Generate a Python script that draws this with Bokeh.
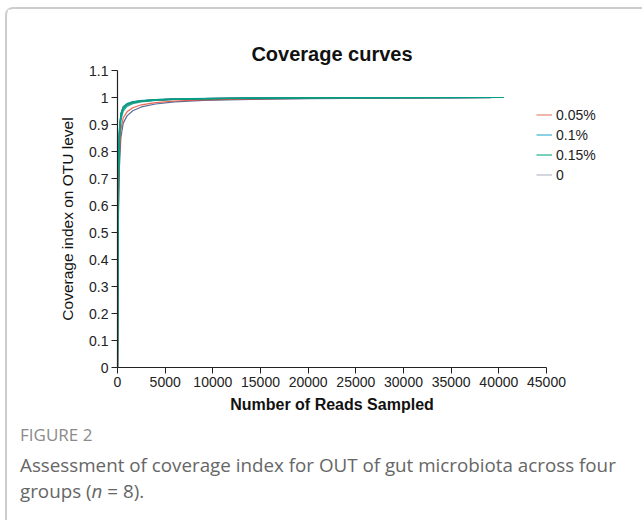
from bokeh.plotting import figure
from bokeh.models import Range1d, FixedTicker, Legend, LegendItem, Div, Title
from bokeh.layouts import column
from bokeh.embed import file_html
from bokeh.resources import INLINE

# ---------------- data ----------------
reads = [0, 40, 100, 200, 350, 600, 1000, 1600, 2500, 4000, 6000, 9000, 14000, 20000, 28000, 40500]

group_names = ["0.05%", "0.1%", "0.15%", "0"]

cov_0 = [
    [0, 0.42, 0.72, 0.875, 0.938, 0.964, 0.976, 0.984, 0.988, 0.992, 0.994, 0.996, 0.998, 0.999, 0.9995, 1.0],
    [0, 0.40, 0.70, 0.86, 0.93, 0.958, 0.972, 0.981, 0.986, 0.990, 0.993, 0.996, 0.997, 0.999, 0.9995, 1.0],
    [0, 0.30, 0.56, 0.74, 0.85, 0.905, 0.932, 0.951, 0.965, 0.976, 0.984, 0.989, 0.993, 0.996, 0.998, 1.0],
]
cov_005 = [
    [0, 0.40, 0.70, 0.86, 0.93, 0.960, 0.973, 0.981, 0.986, 0.990, 0.993, 0.995, 0.997, 0.999, 0.9995, 1.0],
    [0, 0.33, 0.60, 0.78, 0.88, 0.925, 0.947, 0.962, 0.973, 0.981, 0.987, 0.991, 0.995, 0.997, 0.999, 1.0],
    [0, 0.41, 0.71, 0.87, 0.935, 0.962, 0.975, 0.983, 0.988, 0.991, 0.994, 0.996, 0.998, 0.999, 0.9995, 1.0],
]
cov_01 = [
    [0, 0.41, 0.71, 0.87, 0.935, 0.963, 0.976, 0.983, 0.987, 0.991, 0.994, 0.996, 0.998, 0.999, 0.9995, 1.0],
    [0, 0.39, 0.69, 0.85, 0.925, 0.957, 0.971, 0.980, 0.986, 0.990, 0.993, 0.995, 0.997, 0.999, 0.9995, 1.0],
    [0, 0.42, 0.72, 0.88, 0.94, 0.966, 0.978, 0.985, 0.989, 0.992, 0.995, 0.997, 0.998, 0.999, 0.9996, 1.0],
]
cov_015 = [
    [0, 0.42, 0.72, 0.88, 0.94, 0.965, 0.977, 0.984, 0.988, 0.992, 0.994, 0.996, 0.998, 0.999, 0.9995, 1.0],
    [0, 0.40, 0.70, 0.86, 0.93, 0.960, 0.974, 0.982, 0.987, 0.991, 0.994, 0.996, 0.998, 0.999, 0.9995, 1.0],
    [0, 0.37, 0.66, 0.83, 0.915, 0.950, 0.967, 0.977, 0.984, 0.989, 0.993, 0.995, 0.997, 0.998, 0.9993, 1.0],
    [0, 0.41, 0.71, 0.87, 0.935, 0.962, 0.975, 0.983, 0.988, 0.991, 0.994, 0.996, 0.998, 0.999, 0.9995, 1.0],
]

x_ticks = [0, 5000, 10000, 15000, 20000, 25000, 30000, 35000, 40000, 45000]
y_ticks = [0, 0.1, 0.2, 0.3, 0.4, 0.5, 0.6, 0.7, 0.8, 0.9, 1.0, 1.1]
y_tick_labels = ["0", "0.1", "0.2", "0.3", "0.4", "0.5", "0.6", "0.7", "0.8", "0.9", "1", "1.1"]

curve_colors = {"0": "#3C5488", "0.05%": "#E64B35", "0.1%": "#4DBBD5", "0.15%": "#00A087"}
legend_colors = {"0.05%": "#E9A594", "0.1%": "#6CC6DC", "0.15%": "#55C4AC", "0": "#C9CCD6"}

title_text = "Coverage curves"
x_title = "Number of Reads Sampled"
y_title = "Coverage index on OTU level"
fig_label = "FIGURE 2"
caption_1 = "Assessment of coverage index for OUT of gut microbiota across four"
caption_2_pre = "groups ("
caption_2_n = "n"
caption_2_post = " = 8)."

# ---------------- layout ----------------
FONT = "Liberation Sans"
CAP_FONT = "Open Sans"
OX, OY = 7, 9              # offset of figure inside the bordered container
FIG_W, FIG_H = 642 - OX, 420 - OY
AX_L, AX_R = 117 - OX, 546 - OX           # x-axis extent (figure px)
FL, FR, FT, FB = AX_L, 640 - OX, 70 - OY, 367 - OY   # frame edges (figure px)
X_MAX = x_ticks[-1]
X_END = X_MAX * (FR - FL) / (AX_R - AX_L)  # frame reaches further right than the axis
AX_MID = (AX_L + AX_R) / 2 - FL            # centre of the axis, relative to frame left

p = figure(width=FIG_W, height=FIG_H, output_backend="svg", toolbar_location=None,
           x_range=Range1d(0, X_END), y_range=Range1d(0, 1.1),
           min_border_left=FL, min_border_right=FIG_W - FR,
           min_border_top=FT, min_border_bottom=FIG_H - FB)
p.outline_line_color = None
p.grid.visible = False
p.background_fill_color = "white"
p.border_fill_color = "white"

# Liberation Sans Bold advance widths (em) of the two bold titles
TITLE_EM = 8.059
XLAB_EM = 12.725

p.title.text = title_text
p.title.align = "left"
p.title.offset = AX_MID - TITLE_EM * 20 / 2
p.title.text_font = FONT
p.title.text_font_size = "20px"
p.title.text_font_style = "bold"
p.title.text_color = "#111111"
p.title.standoff = 12

for ax, ticks in ((p.xaxis[0], x_ticks), (p.yaxis[0], y_ticks)):
    ax.ticker = FixedTicker(ticks=ticks)
    ax.major_tick_out = 6
    ax.major_tick_in = 0
    ax.minor_tick_out = 0
    ax.minor_tick_in = 0
    ax.axis_line_color = "#222222"
    ax.major_tick_line_color = "#222222"
    ax.axis_line_width = 1.2
    ax.major_label_text_font = FONT
    ax.major_label_text_font_size = "14px"
    ax.major_label_text_color = "#222222"
    ax.major_label_standoff = 3
    ax.axis_label_text_font = FONT
    ax.axis_label_text_color = "#111111"
p.xaxis[0].bounds = (0, X_MAX)
p.xaxis[0].major_label_overrides = {t: str(t) for t in x_ticks}
p.yaxis[0].major_label_overrides = {t: l for t, l in zip(y_ticks, y_tick_labels)}
p.yaxis[0].axis_label = y_title
p.yaxis[0].axis_label_text_font_size = "15.5px"
p.yaxis[0].axis_label_text_font_style = "normal"
p.yaxis[0].axis_label_standoff = 10

xt = Title(text=x_title, align="left", offset=AX_MID - XLAB_EM * 16 / 2, text_font=FONT,
           text_font_size="16px", text_font_style="bold", text_color="#111111",
           standoff=9)
p.add_layout(xt, "below")

# curves (teal group drawn last, on top)
for name, curves in (("0", cov_0), ("0.1%", cov_01), ("0.05%", cov_005), ("0.15%", cov_015)):
    for c in curves:
        p.line(reads, c, line_color=curve_colors[name], line_width=1.2, line_alpha=0.85)

# legend: one-point renderers (draw nothing in the plot) carrying the legend colours
group_end = {"0.05%": cov_005[0][-1], "0.1%": cov_01[0][-1], "0.15%": cov_015[0][-1], "0": cov_0[0][-1]}
items = []
for name in group_names:
    r = p.line([reads[-1]], [group_end[name]], line_color=legend_colors[name], line_width=1.6)
    items.append(LegendItem(label=name, renderers=[r]))
legend = Legend(items=items, location=(536 - OX - FL, FB - (184 - OY)), padding=0, margin=0,
                spacing=1, glyph_width=16, glyph_height=19, label_height=19,
                label_standoff=4, label_text_font=FONT, label_text_font_size="14px",
                label_text_color="#222222", border_line_color=None,
                background_fill_alpha=0)
p.add_layout(legend)

caption_html = (
    f'<div style="font-family:\'{CAP_FONT}\', sans-serif; padding-left:13px; white-space:nowrap;">'
    f'<div style="font-size:17px; color:#8a8a8a; line-height:18px; margin-top:6px;">{fig_label}</div>'
    f'<div style="font-size:18.8px; color:#666666; line-height:26px; margin-top:8px;">'
    f'{caption_1}<br>{caption_2_pre}<i>{caption_2_n}</i>{caption_2_post}</div></div>'
)
cap = Div(text=caption_html, width=FIG_W, height=520 - 420, margin=0)

layout = column(p, cap, margin=(OY - 2, 0, 0, OX - 2),
                styles={"border-top": "2px solid #cccccc", "border-left": "2px solid #cccccc",
                        "border-top-left-radius": "8px"})

open("out.html", "w").write(file_html(layout, INLINE))
